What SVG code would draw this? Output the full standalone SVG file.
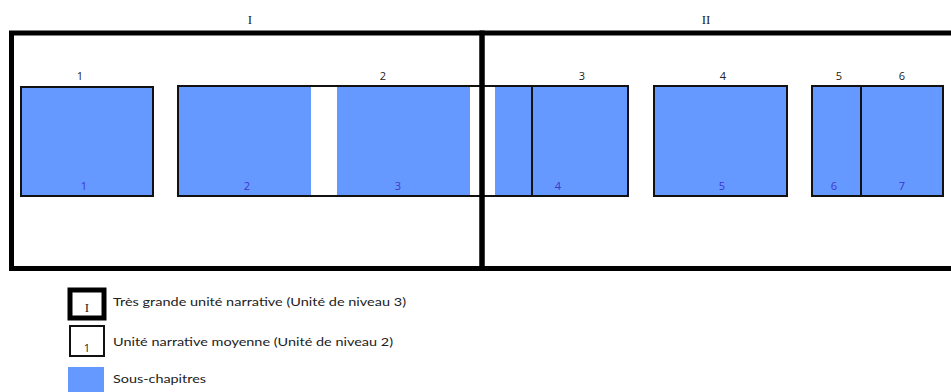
<svg xmlns="http://www.w3.org/2000/svg" width="951" height="392" viewBox="0 0 951 392">
<style>
.big{fill:none;stroke:#000;stroke-width:5}
.mid{fill:none;stroke:#111;stroke-width:2}
.sub{fill:#6699ff;stroke:none}
.lbl{font-family:"Open Sans","Liberation Sans",sans-serif;font-size:11px;fill:#222;text-anchor:middle}
.roman{font-family:"Liberation Serif",serif;font-size:13px;fill:#222;text-anchor:middle}
.num{font-family:"Open Sans","Liberation Sans",sans-serif;font-size:11px;fill:#4035c8;text-anchor:middle}
.leg{font-family:"Lato","Open Sans","Liberation Sans",sans-serif;font-size:12px;fill:#222}
</style>
<rect width="951" height="392" fill="#fff"/>
<!-- sub-chapters (fills) -->
<g id="subchapters">
  <g id="sc1"><rect class="sub" x="21" y="86" width="132" height="110"/><text class="num" x="84" y="190">1</text></g>
  <g id="sc2"><rect class="sub" x="178" y="86" width="133" height="110"/><text class="num" x="247" y="190">2</text></g>
  <g id="sc3"><rect class="sub" x="337" y="86" width="133" height="110"/><text class="num" x="398" y="190">3</text></g>
  <g id="sc4"><rect class="sub" x="495" y="86" width="133" height="110"/><text class="num" x="558" y="190">4</text></g>
  <g id="sc5"><rect class="sub" x="654" y="86" width="133" height="110"/><text class="num" x="722" y="190">5</text></g>
  <g id="sc6"><rect class="sub" x="812" y="86" width="49" height="110"/><text class="num" x="834" y="190">6</text></g>
  <g id="sc7"><rect class="sub" x="861" y="86" width="82" height="110"/><text class="num" x="902" y="190">7</text></g>
</g>
<!-- medium units -->
<g id="unit1"><rect class="mid" x="21" y="87" width="132" height="109"/><text class="lbl" x="80" y="80">1</text></g>
<g id="unit2"><rect class="mid" x="178" y="86" width="354" height="110"/><text class="lbl" x="383" y="80">2</text></g>
<g id="unit3"><rect class="mid" x="532" y="86" width="96" height="110"/><text class="lbl" x="582" y="80">3</text></g>
<g id="unit4"><rect class="mid" x="654" y="86" width="133" height="110"/><text class="lbl" x="723" y="80">4</text></g>
<g id="unit5"><rect class="mid" x="812" y="86" width="49" height="110"/><text class="lbl" x="839" y="80">5</text></g>
<g id="unit6"><rect class="mid" x="861" y="86" width="82" height="110"/><text class="lbl" x="902" y="80">6</text></g>
<!-- very large units -->
<g id="unitI"><rect class="big" x="11.5" y="33" width="470.5" height="235.5"/><text class="roman" x="250" y="24">I</text></g>
<g id="unitII"><rect class="big" x="482" y="33" width="480" height="235.5"/><text class="roman" x="706" y="24">II</text></g>
<g id="connectors"></g>
<!-- legend -->
<g id="legend-big"><rect class="big" x="70" y="290" width="34" height="28"/><text class="roman" x="87" y="312" font-size="10">I</text><text class="leg" x="113" y="306" textLength="293" lengthAdjust="spacingAndGlyphs">Très grande unité narrative (Unité de niveau 3)</text></g>
<g id="legend-mid"><rect class="mid" x="70" y="326" width="34" height="30"/><text class="lbl" x="87" y="352" font-size="10">1</text><text class="leg" x="113" y="346" textLength="280" lengthAdjust="spacingAndGlyphs">Unité narrative moyenne (Unité de niveau 2)</text></g>
<g id="legend-sub"><rect class="sub" x="68" y="367" width="36" height="30"/><text class="leg" x="113" y="383" textLength="93" lengthAdjust="spacingAndGlyphs">Sous-chapitres</text></g>
</svg>
